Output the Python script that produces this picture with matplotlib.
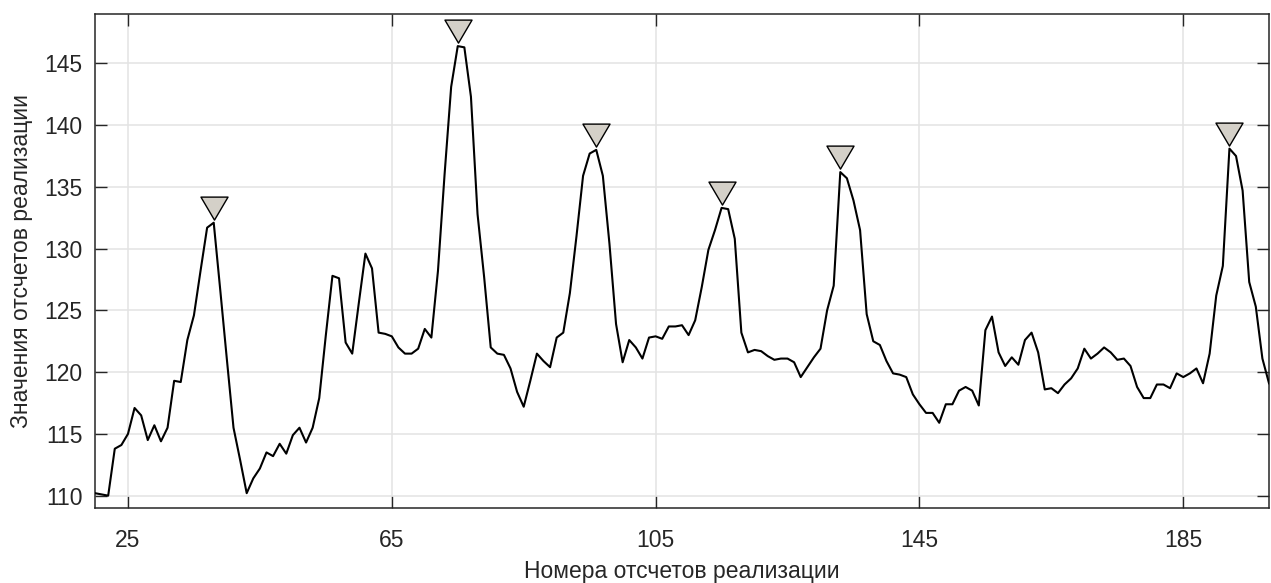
import numpy as np
import matplotlib.pyplot as plt
from matplotlib.path import Path

plt.rcParams['font.family'] = ['Liberation Sans', 'DejaVu Sans']

# sample numbers and values of the realisation
sample_start = 20
values = [
    110.2, 110.1, 110.0, 113.8, 114.1, 115.0, 117.1, 116.5, 114.5, 115.7,  # 20-29
    114.4, 115.5, 119.3, 119.2, 122.6, 124.6, 128.2, 131.7, 132.1, 126.6,  # 30-39
    121.0, 115.5, 112.9, 110.2, 111.4, 112.2, 113.5, 113.2, 114.2, 113.4,  # 40-49
    114.9, 115.5, 114.3, 115.5, 117.9, 123.0, 127.8, 127.6, 122.4, 121.5,  # 50-59
    125.6, 129.6, 128.4, 123.2, 123.1, 122.9, 122.0, 121.5, 121.5, 121.9,  # 60-69
    123.5, 122.8, 128.2, 136.0, 143.1, 146.4, 146.3, 142.3, 132.8, 127.7,  # 70-79
    122.0, 121.5, 121.4, 120.3, 118.4, 117.2, 119.3, 121.5, 120.9, 120.4,  # 80-89
    122.8, 123.2, 126.4, 131.0, 135.9, 137.7, 138.0, 135.9, 130.4, 123.9,  # 90-99
    120.8, 122.6, 122.0, 121.1, 122.8, 122.9, 122.7, 123.7, 123.7, 123.8,  # 100-109
    123.0, 124.2, 126.9, 129.9, 131.5, 133.3, 133.2, 130.8, 123.2, 121.6,  # 110-119
    121.8, 121.7, 121.3, 121.0, 121.1, 121.1, 120.8, 119.6, 120.4, 121.2,  # 120-129
    121.9, 125.0, 127.0, 136.2, 135.7, 133.9, 131.5, 124.7, 122.5, 122.2,  # 130-139
    120.9, 119.9, 119.8, 119.6, 118.2, 117.4, 116.7, 116.7, 115.9, 117.4,  # 140-149
    117.4, 118.5, 118.8, 118.5, 117.3, 123.4, 124.5, 121.6, 120.5, 121.2,  # 150-159
    120.6, 122.6, 123.2, 121.6, 118.6, 118.7, 118.3, 119.0, 119.5, 120.3,  # 160-169
    121.9, 121.1, 121.5, 122.0, 121.6, 121.0, 121.1, 120.5, 118.8, 117.9,  # 170-179
    117.9, 119.0, 119.0, 118.7, 119.9, 119.6, 119.9, 120.3, 119.1, 121.5,  # 180-189
    126.2, 128.6, 138.1, 137.5, 134.7, 127.3, 125.3, 121.1, 119.1,         # 190-198
]
samples = np.arange(sample_start, sample_start + len(values))

peak_samples = [38, 75, 96, 115, 133, 192]
peak_values = [values[p - sample_start] for p in peak_samples]

x_ticks = [25, 65, 105, 145, 185]
y_ticks = [110, 115, 120, 125, 130, 135, 140, 145]

text_color = '#262626'

# downward triangle whose tip sits just above the data point
tri = Path([(-1, 1.95), (1, 1.95), (0, 0.25), (-1, 1.95)],
           [Path.MOVETO, Path.LINETO, Path.LINETO, Path.CLOSEPOLY])

fig = plt.figure(figsize=(12.71, 5.83), dpi=100)
ax = fig.add_axes([95 / 1271, 75 / 583, 1174 / 1271, 494 / 583])

ax.plot(samples, values, color='black', linewidth=1.5, zorder=3)
ax.plot(peak_samples, peak_values, linestyle='none', marker=tri, markersize=38,
        markerfacecolor='#d4d0c8', markeredgecolor='black', markeredgewidth=1.0,
        clip_on=False, zorder=4)

ax.set_xlim(20, 198)
ax.set_ylim(109.0, 149.0)
ax.set_xticks(x_ticks)
ax.set_yticks(y_ticks)
ax.grid(True, color='#e3e3e3', linewidth=1.1)
ax.set_axisbelow(True)

ax.tick_params(direction='in', length=8.5, width=1.0, colors=text_color,
               labelsize=16.5, top=True, right=True)
ax.tick_params(axis='x', pad=15)
ax.tick_params(axis='y', pad=9)
for s in ax.spines.values():
    s.set_color(text_color)
    s.set_linewidth(1.1)

ax.set_xlabel('Номера отсчетов реализации', fontsize=16.5, color=text_color, labelpad=6)
ax.set_ylabel('Значения отсчетов реализации', fontsize=16.5, color=text_color, labelpad=8)

fig.savefig('out.png', dpi=100)
